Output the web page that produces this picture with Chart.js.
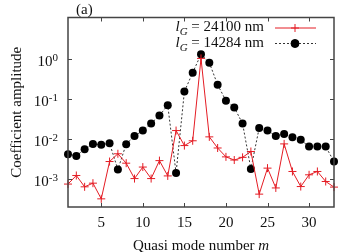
<!DOCTYPE html>
<html>
<head>
<meta charset="utf-8">
<script src="https://cdn.jsdelivr.net/npm/chart.js@4"></script>
<style>html,body{margin:0;padding:0;background:#fff}</style>
</head>
<body>
<canvas id="c" width="360" height="252"></canvas>
<script>
// quasi mode number m
const modes = [1, 2, 3, 4, 5, 6, 7, 8, 9, 10, 11, 12, 13, 14, 15, 16, 17,
  18, 19, 20, 21, 22, 23, 24, 25, 26, 27, 28, 29, 30, 31, 32, 33];
// l_G = 24100 nm (red, crosses)
const ampLong = [7.5e-4, 1.23e-3, 6.4e-4, 7.9e-4, 3.2e-4, 2.75e-3, 4.3e-3, 2.5e-3,
  1.03e-3, 2.0e-3, 1.03e-3, 2.9e-3, 1.2e-3, 1.64e-2, 6.9e-3, 9.1e-3, 1.05,
  1.14e-2, 6.0e-3, 3.6e-3, 3.0e-3, 3.5e-3, 4.9e-3, 4.2e-4, 1.88e-3, 6.0e-4,
  7.6e-3, 1.55e-3, 6.5e-4, 1.28e-3, 1.55e-3, 8.7e-4, 6.3e-4];
// l_G = 14284 nm (black, dots)
const ampShort = [4.2e-3, 3.8e-3, 5.6e-3, 7.6e-3, 7.2e-3, 7.9e-3, 1.74e-3, 7.5e-3,
  1.19e-2, 1.64e-2, 2.46e-2, 3.9e-2, 7.1e-2, 1.41e-3, 0.155, 0.46, 1.33,
  0.82, 0.23, 0.092, 0.062, 0.0246, 1.8e-3, 0.019, 0.0164, 0.012, 0.0135,
  0.0112, 9.6e-3, 6.5e-3, 6.5e-3, 6.5e-3, 2.75e-3];
const seriesLabels = ['24100 nm', '14284 nm'];
const xTicks = [5, 10, 15, 20, 25, 30];
const yTickExps = [0, -1, -2, -3];

const serif = '"Liberation Serif", "DejaVu Serif", serif';
const red = 'rgb(228,28,36)';
const frame = '#444';

function font(size, italic) {
  return (italic ? 'italic ' : '') + size + 'px ' + serif;
}

// draws pieces [text, size, italic, dy] starting at x
function drawRuns(ctx, runs, x, y) {
  runs.forEach(r => {
    ctx.font = font(r[1], r[2]);
    ctx.fillText(r[0], x, y + (r[3] || 0));
    x += ctx.measureText(r[0]).width;
  });
}
function runsWidth(ctx, runs) {
  let w = 0;
  runs.forEach(r => { ctx.font = font(r[1], r[2]); w += ctx.measureText(r[0]).width; });
  return w;
}

const decor = {
  id: 'decor',
  afterDatasetsDraw(chart) {
    const { ctx, chartArea: a, scales: { x, y } } = chart;
    ctx.save();
    // inward ticks on all four sides
    ctx.strokeStyle = frame;
    ctx.lineWidth = 1;
    ctx.beginPath();
    xTicks.forEach(v => {
      const px = Math.round(x.getPixelForValue(v)) + 0.5;
      ctx.moveTo(px, a.bottom); ctx.lineTo(px, a.bottom - 4);
      ctx.moveTo(px, a.top); ctx.lineTo(px, a.top + 4);
    });
    yTickExps.forEach(e => {
      const py = Math.round(y.getPixelForValue(Math.pow(10, e))) + 0.5;
      ctx.moveTo(a.left, py); ctx.lineTo(a.left + 4, py);
      ctx.moveTo(a.right, py); ctx.lineTo(a.right - 4, py);
    });
    ctx.stroke();
    ctx.lineWidth = 1.5;
    ctx.strokeRect(a.left, a.top, a.right - a.left, a.bottom - a.top);

    ctx.fillStyle = '#111';
    ctx.textBaseline = 'alphabetic';
    // x tick labels
    ctx.textAlign = 'center';
    ctx.font = font(15);
    xTicks.forEach(v => ctx.fillText(String(v), x.getPixelForValue(v), 227));
    // y tick labels 10^e
    ctx.textAlign = 'left';
    yTickExps.forEach(e => {
      const py = y.getPixelForValue(Math.pow(10, e));
      const runs = [['10', 15, false, 0], [e < 0 ? '-' + (-e) : String(e), 11, false, -5.5]];
      drawRuns(ctx, runs, 58 - runsWidth(ctx, runs), py + 7);
    });
    // axis titles
    const xt = [['Quasi mode number ', 15, false], ['m', 15, true]];
    drawRuns(ctx, xt, (a.left + a.right) / 2 - runsWidth(ctx, xt) / 2, 249.5);
    ctx.save();
    ctx.translate(21, (a.top + a.bottom) / 2);
    ctx.rotate(-Math.PI / 2);
    ctx.textAlign = 'center';
    ctx.font = font(15);
    ctx.fillText('Coefficient amplitude', 0, 0);
    ctx.restore();
    ctx.font = font(15);
    ctx.fillText('(a)', 76, 13.5);

    // legend
    const rows = [
      { label: seriesLabels[0], ty: 31.2, ly: 28, ds: chart.data.datasets[0] },
      { label: seriesLabels[1], ty: 47, ly: 43.5, ds: chart.data.datasets[1] }
    ];
    rows.forEach(r => {
      const runs = [['l', 15, true, 0], ['G', 11, true, 4], [' = ' + r.label, 15, false, 0]];
      ctx.fillStyle = '#111';
      drawRuns(ctx, runs, 264 - runsWidth(ctx, runs), r.ty);
      ctx.strokeStyle = r.ds.borderColor;
      ctx.lineWidth = 1;
      ctx.setLineDash(r.ds.borderDash || []);
      ctx.beginPath();
      ctx.moveTo(275, r.ly); ctx.lineTo(316, r.ly);
      ctx.stroke();
      ctx.setLineDash([]);
      ctx.fillStyle = r.ds.pointBackgroundColor;
      ctx.strokeStyle = r.ds.pointBorderColor;
      Chart.helpers.drawPoint(ctx, {
        pointStyle: r.ds.pointStyle, radius: r.ds.pointRadius, rotation: 0,
        borderWidth: 1
      }, 295, r.ly);
    });
    ctx.restore();
  }
};

new Chart(document.getElementById('c'), {
  type: 'line',
  data: {
    datasets: [{
      label: seriesLabels[0],
      data: modes.map((m, i) => ({ x: m, y: ampLong[i] })),
      borderColor: red,
      borderWidth: 1,
      pointStyle: 'cross',
      pointRadius: 4,
      pointBorderColor: red,
      pointBackgroundColor: red,
      pointBorderWidth: 1,
      clip: false
    }, {
      label: seriesLabels[1],
      data: modes.map((m, i) => ({ x: m, y: ampShort[i] })),
      borderColor: '#333',
      borderWidth: 1,
      borderDash: [2, 2],
      pointStyle: 'circle',
      pointRadius: 4,
      pointBorderColor: '#000',
      pointBackgroundColor: '#000',
      pointBorderWidth: 0,
      clip: false
    }]
  },
  options: {
    responsive: false,
    animation: false,
    devicePixelRatio: 1,
    events: [],
    layout: { padding: { left: 0, right: 26, top: 17.5, bottom: 0 } },
    plugins: { legend: { display: false }, tooltip: { enabled: false }, title: { display: false } },
    scales: {
      x: {
        type: 'linear', min: 1, max: 33,
        grid: { display: false }, border: { display: false },
        ticks: { display: false },
        afterFit: s => { s.height = 45; }
      },
      y: {
        type: 'logarithmic', min: 2.0e-4, max: 11.1,
        grid: { display: false }, border: { display: false },
        ticks: { display: false },
        afterFit: s => { s.width = 68; }
      }
    }
  },
  plugins: [decor]
});
</script>
</body>
</html>
